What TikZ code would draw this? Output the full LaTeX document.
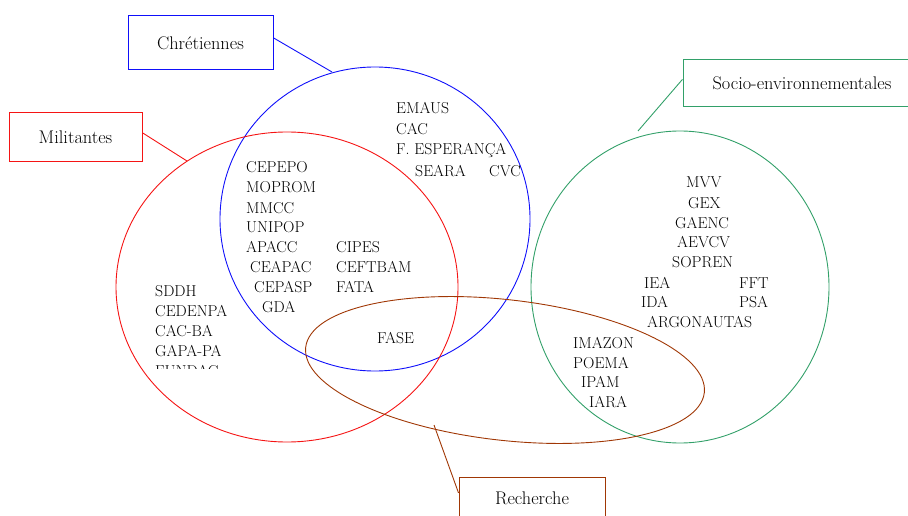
\documentclass[tikz,border=0pt]{standalone}
\definecolor{cblue}{RGB}{15,15,250}
\definecolor{cred}{RGB}{245,20,20}
\definecolor{cgreen}{RGB}{50,160,105}
\definecolor{cbrown}{RGB}{160,55,5}
\begin{document}
\begin{tikzpicture}[x=1pt,y=-1pt,
  org/.style={anchor=base west, inner sep=0pt, font=\fontsize{15.8}{18}\selectfont},
  catbox/.style={draw, line width=1pt, inner sep=0pt, font=\fontsize{18.3}{20}\selectfont},
  setline/.style={line width=0.9pt},
  link/.style={line width=0.9pt}]
\useasboundingbox (0,0) rectangle (908,516);

% sets
\draw[setline, cblue] (375,219) ellipse [x radius=155, y radius=152];
\draw[setline, cred] (287,287) ellipse [x radius=171, y radius=155];
\draw[setline, cgreen] (680,287) ellipse [x radius=149, y radius=156];
\draw[setline, cbrown, rotate around={-6.5:(505,370)}] (505,370) ellipse [x radius=200.6, y radius=70.3];

% category boxes
\node[catbox, cblue, minimum width=145pt, minimum height=54pt, text=black] (chr) at (200.5,43) {Chr\'etiennes};
\node[catbox, cred, minimum width=133pt, minimum height=49pt, text=black] (mil) at (75.5,137.5) {Militantes};
\node[catbox, cgreen, minimum width=238pt, minimum height=47pt, text=black] (soc) at (802,83.5) {Socio-environnementales};
\node[catbox, cbrown, minimum width=146pt, minimum height=42pt, text=black] (rec) at (532,498) {Recherche};

% connector ends on the sets
\coordinate (cchr) at (332,72);
\coordinate (cmil) at (187,161);
\coordinate (csoc) at (638,131);
\coordinate (crec) at (434,425);

\draw[link, cblue] (chr.4) -- (cchr);
\draw[link, cred] (mil.4) -- (cmil);
\draw[link, cgreen] (soc.178) -- (csoc);
\draw[link, cbrown] (crec) -- (rec.176);

% Chretiennes only
\node[org] (emaus) at (396,114) {EMAUS};
\node[org] (cac) at (396,135) {CAC};
\node[org] (fesp) at (396,155) {F. ESPERAN\c{C}A};
\node[org] (seara) at (415,177) {SEARA};
\node[org] (cvc) at (489,177) {CVC};

% Militantes & Chretiennes
\node[org] (cepepo) at (246,173) {CEPEPO};
\node[org] (moprom) at (246,193) {MOPROM};
\node[org] (mmcc) at (246,213) {MMCC};
\node[org] (unipop) at (246,233) {UNIPOP};
\node[org] (apacc) at (246,252) {APACC};
\node[org] (ceapac) at (250,272) {CEAPAC};
\node[org] (cepasp) at (254,292) {CEPASP};
\node[org] (gda) at (262,312) {GDA};
\node[org] (cipes) at (336,252) {CIPES};
\node[org] (ceftbam) at (336,272) {CEFTBAM};
\node[org] (fata) at (336,292) {FATA};
\node[org] (fase) at (377,343) {FASE};

% Militantes only
\node[org] (sddh) at (155,296) {SDDH};
\node[org] (cedenpa) at (155,316) {CEDENPA};
\node[org] (cacba) at (155,336) {CAC-BA};
\node[org] (gapapa) at (155,356) {GAPA-PA};
\begin{scope}
\clip (140,270) rectangle (300,368);
\node[org] (fundac) at (155,376) {FUNDAC};
\end{scope}

% Socio-environnementales
\node[org] (mvv) at (686,188) {MVV};
\node[org] (gex) at (688,208) {GEX};
\node[org] (gaenc) at (675,228) {GAENC};
\node[org] (aevcv) at (677,247) {AEVCV};
\node[org] (sopren) at (672,267) {SOPREN};
\node[org] (iea) at (644,288) {IEA};
\node[org] (fft) at (739,288) {FFT};
\node[org] (ida) at (641,307) {IDA};
\node[org] (psa) at (739,307) {PSA};
\node[org] (argo) at (647,327) {ARGONAUTAS};
\node[org] (imazon) at (573,348) {IMAZON};
\node[org] (poema) at (573,368) {POEMA};
\node[org] (ipam) at (581,387) {IPAM};
\node[org] (iara) at (589,407) {IARA};
\end{tikzpicture}
\end{document}
